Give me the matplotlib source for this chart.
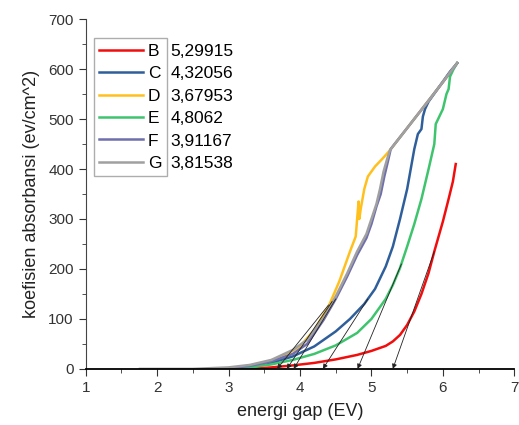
import matplotlib
matplotlib.use("Agg")
import matplotlib.pyplot as plt
from matplotlib.ticker import MultipleLocator

plt.rcParams['font.family'] = ['Liberation Sans', 'DejaVu Sans']

# sample curves
b_x = [3.3, 3.6, 3.9, 4.2, 4.5, 4.8, 5.0, 5.2, 5.3, 5.4, 5.5, 5.6, 5.7, 5.8, 5.88, 5.95, 6.0, 6.08, 6.14, 6.18]
b_y = [0, 3, 7, 12, 19, 28, 36, 46, 55, 68, 88, 115, 150, 192, 235, 270, 295, 340, 375, 410]

c_x = [3.0, 3.3, 3.6, 3.9, 4.2, 4.5, 4.7, 4.9, 5.05, 5.2, 5.3, 5.4, 5.5, 5.6, 5.65, 5.7, 5.72, 5.75, 5.8, 5.9, 6.0, 6.1, 6.2]
c_y = [0, 4, 12, 25, 45, 75, 100, 130, 160, 205, 245, 300, 360, 440, 470, 480, 505, 520, 535, 555, 575, 595, 612]

d_x = [2.9, 3.2, 3.5, 3.8, 4.0, 4.2, 4.4, 4.55, 4.7, 4.78, 4.8, 4.82, 4.83, 4.85, 4.9, 4.95, 5.05, 5.15, 5.25, 5.5, 5.8, 6.0, 6.2]
d_y = [0, 4, 12, 28, 45, 78, 125, 175, 235, 265, 300, 335, 300, 320, 360, 385, 405, 420, 436, 482, 537, 574, 612]

e_x = [3.0, 3.3, 3.6, 3.9, 4.2, 4.5, 4.8, 5.0, 5.2, 5.3, 5.4, 5.5, 5.6, 5.7, 5.8, 5.88, 5.9, 5.95, 6.0, 6.05, 6.08, 6.1, 6.15, 6.2]
e_y = [0, 3, 9, 18, 30, 47, 72, 100, 140, 168, 202, 245, 290, 340, 400, 450, 490, 505, 520, 550, 560, 585, 600, 612]

f_x = [2.9, 3.3, 3.6, 3.9, 4.1, 4.33, 4.5, 4.66, 4.8, 4.93, 5.0, 5.07, 5.13, 5.18, 5.23, 5.27, 5.5, 5.8, 6.0, 6.2]
f_y = [0, 6, 15, 30, 50, 98, 140, 185, 228, 262, 290, 325, 350, 385, 415, 440, 482, 537, 574, 612]

g_x = [1.76, 2.5, 3.0, 3.3, 3.6, 3.9, 4.1, 4.33, 4.5, 4.66, 4.8, 4.93, 5.0, 5.07, 5.12, 5.17, 5.22, 5.26, 5.5, 5.8, 6.0, 6.2]
g_y = [0, 0, 3, 8, 18, 38, 58, 102, 145, 191, 235, 270, 300, 330, 360, 395, 420, 438, 482, 537, 574, 612]

names = ['B', 'C', 'D', 'E', 'F', 'G']
gaps = ['5,29915', '4,32056', '3,67953', '4,8062', '3,91167', '3,81538']
colors = ['#f20d0d', '#2f5f9b', '#ffc01e', '#3fc46e', '#6f6fad', '#a0a0a0']

# tangent lines: x intercept and upper end point
tan_x0 = [5.29915, 4.32056, 3.67953, 4.8062, 3.91167, 3.81538]
tan_x1 = [5.88, 4.95, 4.4, 5.42, 4.5, 4.45]
tan_y1 = [235, 140, 128, 210, 140, 135]

fig = plt.figure(figsize=(5.19, 4.25), dpi=100)
ax = fig.add_axes([0.165, 0.132, 0.826, 0.823])

xs = [b_x, c_x, d_x, e_x, f_x, g_x]
ys = [b_y, c_y, d_y, e_y, f_y, g_y]
for x, y, n, c in zip(xs, ys, names, colors):
    ax.plot(x, y, color=c, lw=1.8, label=n)

for x0, x1, y1 in zip(tan_x0, tan_x1, tan_y1):
    ax.annotate('', xy=(x0, 0), xytext=(x1, y1),
                arrowprops=dict(arrowstyle='-|>', color='#222222', lw=0.6,
                                mutation_scale=7, shrinkA=0, shrinkB=0))

ax.set_xlim(1, 7)
ax.set_ylim(0, 700)
ax.xaxis.set_major_locator(MultipleLocator(1))
ax.xaxis.set_minor_locator(MultipleLocator(0.5))
ax.yaxis.set_major_locator(MultipleLocator(100))
ax.yaxis.set_minor_locator(MultipleLocator(50))
ax.spines['top'].set_visible(False)
ax.spines['right'].set_visible(False)
ax.spines['bottom'].set_linewidth(1.3)
ax.spines['left'].set_color('#444444')
ax.tick_params(which='major', direction='out', length=5, labelsize=11, colors='#333333')
ax.tick_params(which='minor', direction='out', length=3, colors='#333333')
ax.set_xlabel('energi gap (EV)', fontsize=13, color='#222222', labelpad=6)
ax.set_ylabel('koefisien absorbansi (ev/cm^2)', fontsize=13, color='#222222', labelpad=6)

leg = ax.legend(loc='upper left', bbox_to_anchor=(0.02, 0.945), fontsize=12.5,
                handlelength=2.5, handletextpad=0.3, borderpad=0.3,
                labelspacing=0.42, fancybox=False, edgecolor='#999999',
                borderaxespad=0)
leg.get_frame().set_linewidth(1.0)

fig.canvas.draw()
frame = leg.get_frame().get_window_extent()
inv = ax.transAxes.inverted()
for t, g in zip(leg.get_texts(), gaps):
    bb = t.get_window_extent()
    px, py = inv.transform((frame.x1 + 4, (bb.y0 + bb.y1) / 2))
    ax.text(px, py, g, transform=ax.transAxes, fontsize=12.5, va='center', ha='left')

fig.savefig('out.png', dpi=100)
